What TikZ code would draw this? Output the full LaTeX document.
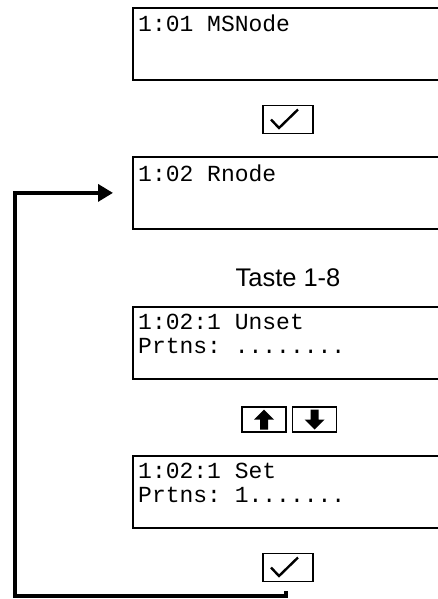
\documentclass[tikz,border=0pt]{standalone}
\usepackage{fontspec}
\setmainfont{Liberation Sans}
\setmonofont{Liberation Mono}
\usetikzlibrary{arrows.meta}

\tikzset{
  display/.style={draw, line width=1.8pt, minimum width=312pt, minimum height=72pt,
    anchor=north west, inner sep=0pt},
  lcdtext/.style={anchor=north west, inner sep=0pt, align=left,
    font=\fontsize{23}{24}\selectfont\ttfamily, execute at begin node=\strut},
  key/.style={draw, line width=1.1pt, minimum width=50pt, minimum height=28pt, inner sep=0pt},
  okkey/.style={key, path picture={
    \draw[line width=2.4pt] ([shift={(-17,0)}]path picture bounding box.center)
      -- ++(8,-8.5) -- ++(19,18.5);}},
  upkey/.style={key, minimum width=44pt, minimum height=25pt, path picture={
    \fill ([shift={(0,10)}]path picture bounding box.center) -- ++(10,-10) -- ++(-6,0)
      -- ++(0,-10) -- ++(-8,0) -- ++(0,10) -- ++(-6,0) -- cycle;}},
  downkey/.style={key, minimum width=44pt, minimum height=25pt, path picture={
    \fill ([shift={(0,-10)}]path picture bounding box.center) -- ++(10,10) -- ++(-6,0)
      -- ++(0,10) -- ++(-8,0) -- ++(0,-10) -- ++(-6,0) -- cycle;}},
  loopline/.style={line width=3.5pt, -{Triangle[length=15pt,width=17pt]}}
}

\begin{document}
\begin{tikzpicture}[x=1pt, y=1pt]
  \useasboundingbox (0,0) rectangle (438,-599);
  \clip (0,0) rectangle (438,-599);

  % menu screens
  \node[display] (msnode) at (132,-7) {};
  \node[lcdtext] (mstxt) at ([shift={(6,-8)}]msnode.north west) {1:01 MSNode};

  \node[display] (rnode) at (132,-156) {};
  \node[lcdtext] (rtxt) at ([shift={(6,-8)}]rnode.north west) {1:02 Rnode};

  \node[display] (unset) at (132,-306) {};
  \node[lcdtext] (unsettxt) at ([shift={(6,-8)}]unset.north west) {1:02:1 Unset\\Prtns: ........};

  \node[display] (set) at (132,-455) {};
  \node[lcdtext] (settxt) at ([shift={(6,-8)}]set.north west) {1:02:1 Set\\Prtns: 1.......};

  % keys between the screens
  \node[okkey] (ok1) at (288,-119.5) {};
  \node[font=\fontsize{25.5}{30}\selectfont, anchor=base] (taste) at (288,-286) {Taste 1-8};
  \node[upkey] (up) at (264,-419.5) {};
  \node[downkey] (down) at (314.5,-419.5) {};
  \node[okkey] (ok2) at (288,-567.5) {};

  % back to Rnode
  \draw[loopline] ([shift={(-2,-9)}]ok2.south) -- ++(0,-5)
    -| ([xshift=-117pt]rnode.west) -- ([xshift=-19pt]rnode.west);
\end{tikzpicture}
\end{document}
